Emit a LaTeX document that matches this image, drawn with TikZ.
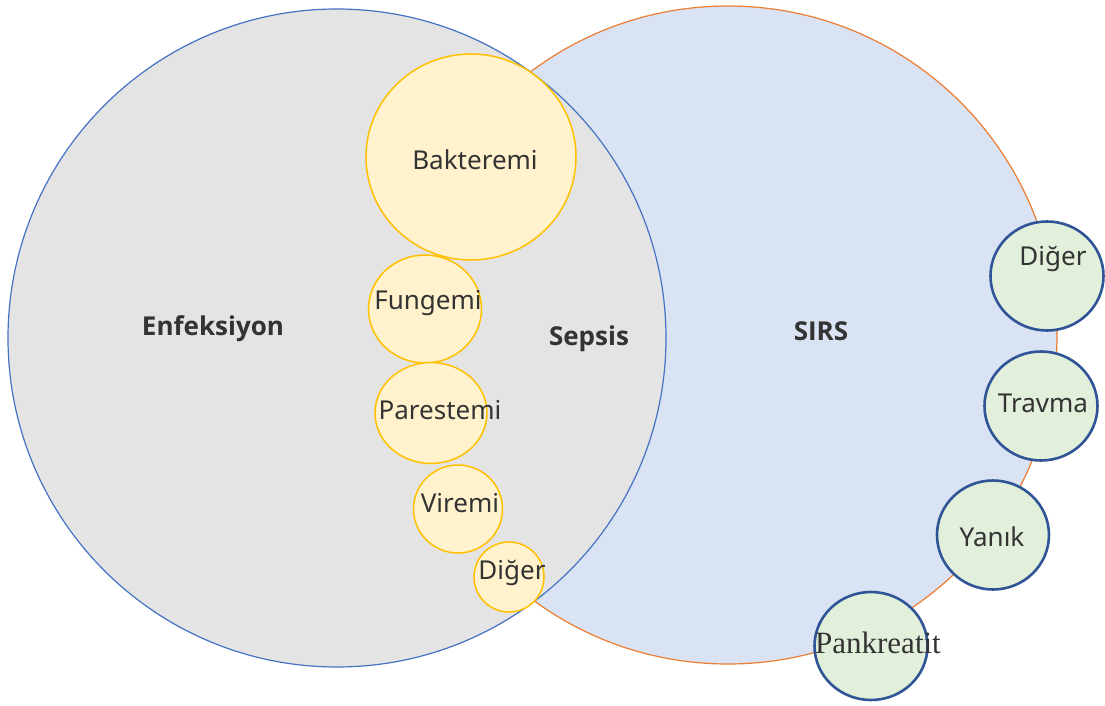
\documentclass[tikz,border=0pt]{standalone}
\usepackage{fontspec}
\setmainfont{Noto Sans}
\newfontfamily\headfont{Open Sans}
\newfontfamily\serifpank{Liberation Serif}
\usepackage{tikz}
\usetikzlibrary{shapes.geometric}
\definecolor{enfgray}{HTML}{E4E4E4}
\definecolor{enfblue}{HTML}{4472C4}
\definecolor{sirsfill}{HTML}{DAE3F3}
\definecolor{sirsorange}{HTML}{ED7D31}
\definecolor{bubfill}{HTML}{FFF2CC}
\definecolor{bubline}{HTML}{FFC000}
\definecolor{greenfill}{HTML}{E2EFDA}
\definecolor{greenline}{HTML}{2F5597}
\definecolor{txtdark}{HTML}{333333}

\begin{document}
\begin{tikzpicture}[x=0.5pt, y=-0.5pt,
    big/.style={circle, inner sep=0pt, minimum size=329pt, line width=0.6pt},
    bub/.style={ellipse, inner sep=0pt, draw=bubline, fill=bubfill, line width=0.75pt},
    gbub/.style={ellipse, inner sep=0pt, draw=greenline, fill=greenfill, line width=1.3pt},
    lbl/.style={text=txtdark, font=\fontsize{13}{15}\selectfont, inner sep=0pt},
    head/.style={text=txtdark, font=\headfont\bfseries\fontsize{13}{16}\selectfont, inner sep=0pt}]
      \useasboundingbox (0,0) rectangle (1105,706);
      \node[big, draw=sirsorange, fill=sirsfill] (sirs) at (728,335) {};
      \node[big, draw=enfblue, fill=enfgray] (enf) at (337,338) {};
      \node[head] (enftxt) at (213,329) {Enfeksiyon};
      \node[head] (sepsis) at (589,339) {Sepsis};
      \node[head] (sirstxt) at (821,331) {SIRS};
      % infection types
      \node[bub, minimum width=105pt, minimum height=103pt] (bakt) at (471,157) {};
      \node[lbl] (bakttxt) at (475,160) {Bakteremi};
      \node[bub, minimum width=56.5pt, minimum height=54pt] (fung) at (425,309) {};
      \node[lbl] (fungtxt) at (428,303) {Fungemi};
      \node[bub, minimum width=56pt, minimum height=50.5pt] (pare) at (431,413) {};
      \node[lbl] (paretxt) at (440,410) {Parestemi};
      \node[bub, minimum width=44.5pt, minimum height=44pt] (vire) at (458,509) {};
      \node[lbl] (viretxt) at (460,503) {Viremi};
      \node[bub, minimum width=35pt, minimum height=35pt] (diga) at (509,577) {};
      \node[lbl] (digatxt) at (512,573) {Diğer};
      % SIRS causes
      \node[gbub, minimum width=56.5pt, minimum height=54.5pt] (digb) at (1047,276) {};
      \node[lbl] (digbtxt) at (1053,259) {Diğer};
      \node[gbub, minimum width=56.5pt, minimum height=54.5pt] (trav) at (1041,406) {};
      \node[lbl] (travtxt) at (1043,403) {Travma};
      \node[gbub, minimum width=56pt, minimum height=54.5pt] (yan) at (993,535) {};
      \node[lbl] (yantxt) at (992,537) {Yanık};
      \node[gbub, minimum width=56.5pt, minimum height=54pt] (pank) at (871,646) {};
      \node[text=txtdark, font=\serifpank\fontsize{15.5}{18}\selectfont, inner sep=0pt] (panktxt) at (878,643) {Pankreatit};
\end{tikzpicture}
\end{document}
